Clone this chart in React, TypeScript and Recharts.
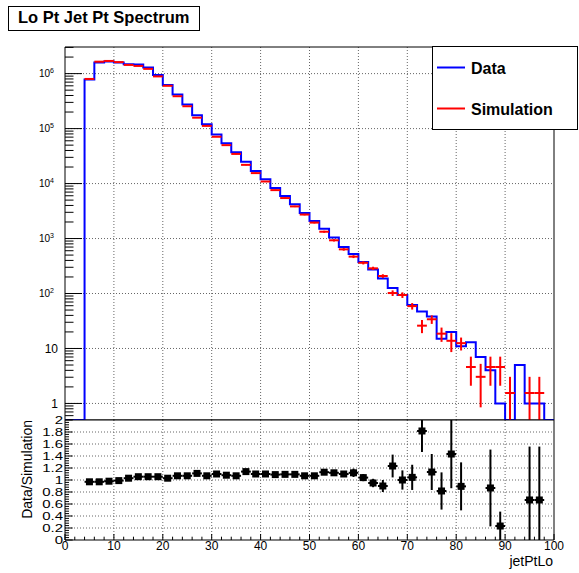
import React from 'react';
import {
  ComposedChart,
  Line,
  Scatter,
  XAxis,
  YAxis,
  CartesianGrid,
  ErrorBar,
  ReferenceArea,
} from 'recharts';

const FONT = '"Liberation Sans", Arial, Helvetica, sans-serif';

// ---- data (bin centres, bin width 2) ----
const BIN_CENTERS = [
  1, 3, 5, 7, 9, 11, 13, 15, 17, 19, 21, 23, 25, 27, 29, 31, 33, 35, 37, 39,
  41, 43, 45, 47, 49, 51, 53, 55, 57, 59, 61, 63, 65, 67, 69, 71, 73, 75, 77, 79,
  81, 83, 85, 87, 89, 91, 93, 95, 97, 99,
];
const BIN_HALF = 1;

const DATA_COUNTS = [
  0, 0, 7.8e5, 1.6e6, 1.67e6, 1.6e6, 1.48e6, 1.46e6, 1.29e6, 9.4e5,
  6.2e5, 4.15e5, 2.73e5, 1.75e5, 1.2e5, 7.8e4, 5.4e4, 3.7e4, 2.5e4, 1.7e4,
  1.2e4, 8300, 5960, 4200, 2920, 2090, 1500, 1040, 700, 525,
  376, 273, 187, 126, 94, 62, 47, 38, 15, 20,
  11, 13, 7, 4, 1, 0, 5, 1, 1, 0,
];

const SIM_COUNTS: (number | null)[] = [
  null, null, 8.0e5, 1.65e6, 1.7e6, 1.62e6, 1.44e6, 1.38e6, 1.22e6, 8.9e5,
  6.0e5, 3.88e5, 2.55e5, 1.58e5, 1.12e5, 7.1e4, 5.0e4, 3.46e4, 2.19e4, 1.55e4,
  1.09e4, 7600, 5450, 3840, 2730, 1950, 1330, 929, 636, 469,
  362, 287, 208, 102, 94, 59, 26, 34, 18.6, 13.8,
  12.5, 4.6, 3.05, 4.6, 4.6, 1.55, null, 1.55, 1.55, null,
];

const SIM_ERRORS: (number | null)[] = [
  null, null, 2000, 4000, 4000, 4000, 4000, 4000, 3500, 3000,
  2500, 2000, 1600, 1200, 1000, 750, 600, 450, 350, 280,
  220, 170, 140, 110, 90, 70, 55, 45, 35, 28,
  24, 20, 16, 12, 11, 8, 7, 6, 5.4, 5.2,
  3.3, 2.5, 2.2, 2.5, 2.5, 1.5, null, 1.5, 1.5, null,
];

const RATIO: (number | null)[] = [
  null, null, 0.97, 0.97, 0.98, 0.99, 1.03, 1.055, 1.055, 1.055,
  1.03, 1.07, 1.07, 1.11, 1.07, 1.1, 1.08, 1.07, 1.14, 1.1,
  1.1, 1.09, 1.094, 1.094, 1.07, 1.07, 1.13, 1.12, 1.1, 1.12,
  1.04, 0.95, 0.9, 1.233, 1.0, 1.044, 1.817, 1.133, 0.817, 1.433,
  0.894, null, null, 0.867, 0.233, null, null, 0.667, 0.667, null,
];

const RATIO_ERRORS: (number | null)[] = [
  null, null, 0.01, 0.01, 0.01, 0.01, 0.01, 0.01, 0.01, 0.01,
  0.01, 0.01, 0.01, 0.01, 0.01, 0.01, 0.012, 0.012, 0.015, 0.015,
  0.018, 0.02, 0.02, 0.02, 0.025, 0.03, 0.035, 0.04, 0.05, 0.07,
  0.06, 0.07, 0.1, 0.19, 0.16, 0.21, 0.35, 0.3, 0.31, 0.57,
  0.4, null, null, 0.64, 0.24, null, null, 0.89, 0.89, null,
];

const X_MAJOR_TICKS = [0, 10, 20, 30, 40, 50, 60, 70, 80, 90, 100];
const X_GRID = [10, 20, 30, 40, 50, 60, 70, 80, 90];
const Y_DECADES = [1, 10, 100, 1000, 10000, 100000, 1000000];
const RATIO_LABELS = [0, 0.2, 0.4, 0.6, 0.8, 1, 1.2, 1.4, 1.6, 1.8, 2];
const RATIO_GRID = [0.2, 0.4, 0.6, 0.8, 1, 1.2, 1.4, 1.6, 1.8];

const Y_MIN = 0.5;
const Y_MAX = 3.05e6;
const X_MIN = 0;
const X_MAX = 100;
const R_MIN = 0;
const R_MAX = 2;

// ---- tables for the library ----
const stepRows = BIN_CENTERS.map((c, i) => ({
  x: c - BIN_HALF,
  y: DATA_COUNTS[i] > 0 ? DATA_COUNTS[i] : Y_MIN,
}));
stepRows.push({ x: X_MAX, y: stepRows[stepRows.length - 1].y });

const simRows = BIN_CENTERS.map((c, i) => ({ c, v: SIM_COUNTS[i], e: SIM_ERRORS[i] }))
  .filter((r) => r.v != null)
  .map((r) => ({
    x: r.c,
    y: r.v as number,
    xErr: BIN_HALF,
    yErr: [Math.min(r.e as number, (r.v as number) - Y_MIN), r.e as number],
  }));

const ratioRows = BIN_CENTERS.map((c, i) => ({ c, v: RATIO[i], e: RATIO_ERRORS[i] }))
  .filter((r) => r.v != null)
  .map((r) => ({
    x: r.c,
    y: r.v as number,
    xErr: BIN_HALF,
    yErr: [
      Math.min(r.e as number, (r.v as number) - R_MIN),
      Math.min(r.e as number, R_MAX - (r.v as number)),
    ],
  }));

const X_TICKS: number[] = [];
for (let v = X_MIN; v <= X_MAX; v += 2) X_TICKS.push(v);

const Y_TICKS: number[] = [];
for (let e = -1; e <= 6; e++) {
  for (let m = 1; m <= 9; m++) {
    const v = m * Math.pow(10, e);
    if (v >= Y_MIN && v <= Y_MAX) Y_TICKS.push(v);
  }
}

const R_TICKS: number[] = [];
for (let i = 0; i <= 50; i++) R_TICKS.push(Math.round(i * 4) / 100);

// ---- tick renderers (ROOT style: ticks inside the frame) ----
const TopXTick = (p: any) => {
  const v = p.payload.value;
  const major = X_MAJOR_TICKS.includes(v);
  return (
    <line x1={p.x} x2={p.x} y1={p.y} y2={p.y - (major ? 10 : 5)} stroke="#000" strokeWidth={1} />
  );
};

const TopYTick = (p: any) => {
  const { x, y } = p;
  const v = p.payload.value;
  const lg = Math.log10(v);
  const e = Math.round(lg);
  const major = Math.abs(lg - e) < 1e-6 && Y_DECADES.includes(Math.pow(10, e));
  const len = major ? 17 : 8.5;
  return (
    <g>
      <line x1={x} x2={x + len} y1={y} y2={y} stroke="#000" strokeWidth={1} />
      {major && e <= 1 && (
        <text x={x - 7} y={y + 4.3} textAnchor="end" fontSize={12} fontFamily={FONT} fill="#000">
          {e === 0 ? '1' : '10'}
        </text>
      )}
      {major && e > 1 && (
        <text x={x - 11} y={y + 3.8} textAnchor="end" fontFamily={FONT} fill="#000">
          <tspan fontSize={10}>10</tspan>
          <tspan fontSize={7} dy={-4}>
            {String(e)}
          </tspan>
        </text>
      )}
    </g>
  );
};

const RatioXTick = (p: any) => {
  const v = p.payload.value;
  const major = X_MAJOR_TICKS.includes(v);
  return (
    <g>
      <line x1={p.x} x2={p.x} y1={p.y} y2={p.y - (major ? 6 : 3.3)} stroke="#000" strokeWidth={1} />
      {major && (
        <text x={p.x} y={p.y + 9.5} textAnchor="middle" fontSize={12} fontFamily={FONT} fill="#000">
          {String(v)}
        </text>
      )}
    </g>
  );
};

const RatioYTick = (p: any) => {
  const v = p.payload.value;
  const major = RATIO_LABELS.some((m) => Math.abs(m - v) < 1e-6);
  return (
    <g>
      <line x1={p.x} x2={p.x + (major ? 7.7 : 4)} y1={p.y} y2={p.y} stroke="#000" strokeWidth={1} />
      {major && (
        <text
          transform={`translate(${p.x - 2}, ${p.y + 3.6}) scale(1.5, 1)`}
          x={0}
          y={0}
          textAnchor="end"
          fontSize={10}
          fontFamily={FONT}
          fill="#000"
        >
          {String(Number(v.toFixed(1)))}
        </text>
      )}
    </g>
  );
};

const NoShape = () => <g />;
const SquareShape = (p: any) => (
  <rect x={p.cx - 3.5} y={p.cy - 3.5} width={7} height={7} fill="#000" />
);

export default function App() {
  return (
    <div
      style={{
        position: 'absolute',
        left: 0,
        top: 0,
        width: 579,
        height: 573,
        background: '#fff',
        fontFamily: FONT,
      }}
    >
      {/* top panel */}
      <div style={{ position: 'absolute', left: 0, top: 0 }}>
        <ComposedChart width={579} height={420} margin={{ top: 47, right: 25, bottom: 0, left: 0 }}>
          <CartesianGrid
            horizontalValues={Y_DECADES}
            verticalValues={X_GRID}
            stroke="#666"
            strokeDasharray="1 2"
          />
          <XAxis
            type="number"
            dataKey="x"
            domain={[X_MIN, X_MAX]}
            allowDataOverflow
            ticks={X_TICKS}
            interval={0}
            height={0}
            tickSize={0}
            tickMargin={0}
            axisLine={false}
            tickLine={false}
            tick={TopXTick}
          />
          <YAxis
            type="number"
            dataKey="y"
            scale="log"
            domain={[Y_MIN, Y_MAX]}
            allowDataOverflow
            ticks={Y_TICKS}
            interval={0}
            width={65}
            tickSize={0}
            tickMargin={0}
            axisLine={false}
            tickLine={false}
            tick={TopYTick}
          />
          <Line
            data={stepRows}
            dataKey="y"
            type="stepAfter"
            stroke="#0000ff"
            strokeWidth={2}
            dot={false}
            activeDot={false}
            isAnimationActive={false}
          />
          <Scatter data={simRows} dataKey="y" shape={NoShape} isAnimationActive={false}>
            <ErrorBar dataKey="xErr" direction="x" width={0} stroke="#ff0000" strokeWidth={2} />
            <ErrorBar dataKey="yErr" direction="y" width={0} stroke="#ff0000" strokeWidth={2} />
          </Scatter>
          <ReferenceArea
            x1={X_MIN}
            x2={X_MAX}
            y1={Y_MIN}
            y2={Y_MAX}
            fill="none"
            fillOpacity={0}
            stroke="#000"
            strokeWidth={1}
          />
        </ComposedChart>
      </div>

      {/* ratio panel */}
      <div style={{ position: 'absolute', left: 0, top: 400 }}>
        <ComposedChart width={579} height={173} margin={{ top: 20, right: 25, bottom: 0, left: 0 }}>
          <CartesianGrid
            horizontalValues={RATIO_GRID}
            verticalValues={X_GRID}
            stroke="#666"
            strokeDasharray="1 2"
          />
          <XAxis
            type="number"
            dataKey="x"
            domain={[X_MIN, X_MAX]}
            allowDataOverflow
            ticks={X_TICKS}
            interval={0}
            height={33}
            tickSize={0}
            tickMargin={0}
            axisLine={false}
            tickLine={false}
            tick={RatioXTick}
          />
          <YAxis
            type="number"
            dataKey="y"
            domain={[R_MIN, R_MAX]}
            allowDataOverflow
            ticks={R_TICKS}
            interval={0}
            width={65}
            tickSize={0}
            tickMargin={0}
            axisLine={false}
            tickLine={false}
            tick={RatioYTick}
          />
          <Scatter data={ratioRows} dataKey="y" shape={SquareShape} isAnimationActive={false}>
            <ErrorBar dataKey="xErr" direction="x" width={0} stroke="#000" strokeWidth={2} />
            <ErrorBar dataKey="yErr" direction="y" width={0} stroke="#000" strokeWidth={2} />
          </Scatter>
          <ReferenceArea
            x1={X_MIN}
            x2={X_MAX}
            y1={R_MIN}
            y2={R_MAX}
            fill="none"
            fillOpacity={0}
            stroke="#000"
            strokeWidth={1}
          />
        </ComposedChart>
      </div>

      {/* title, legend and axis titles */}
      <svg
        width={579}
        height={573}
        style={{ position: 'absolute', left: 0, top: 0, pointerEvents: 'none' }}
      >
        <rect x={8.5} y={6.5} width={191} height={24} fill="#fff" stroke="#000" strokeWidth={1} />
        <text x={18} y={22.5} fontSize={16.5} fontWeight="bold" fontFamily={FONT} fill="#000">
          Lo Pt Jet Pt Spectrum
        </text>

        <rect x={432.5} y={46.5} width={145} height={83} fill="#fff" stroke="#000" strokeWidth={1} />
        <line x1={437} x2={465} y1={67.5} y2={67.5} stroke="#0000ff" strokeWidth={2} />
        <text x={471} y={74} fontSize={16} fontWeight="bold" fontFamily={FONT} fill="#000">
          Data
        </text>
        <line x1={437} x2={465} y1={108.5} y2={108.5} stroke="#ff0000" strokeWidth={2} />
        <text x={471} y={115} fontSize={16} fontWeight="bold" fontFamily={FONT} fill="#000">
          Simulation
        </text>

        <text
          x={553}
          y={566}
          textAnchor="end"
          fontSize={14}
          fontFamily={FONT}
          fill="#000"
        >
          jetPtLo
        </text>
        <text
          x={32}
          y={420}
          textAnchor="end"
          fontSize={14}
          fontFamily={FONT}
          fill="#000"
          transform="rotate(-90 32 420)"
        >
          Data/Simulation
        </text>
      </svg>
    </div>
  );
}
